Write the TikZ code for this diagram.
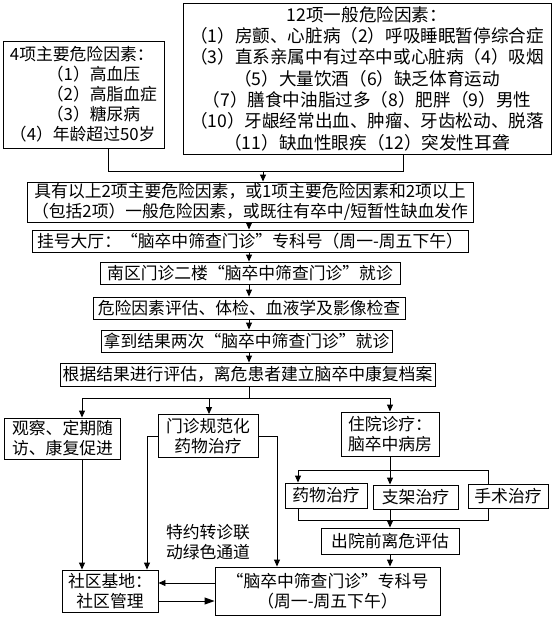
\documentclass[tikz,border=0pt]{standalone}
\usepackage{fontspec}
\setmainfont{Noto Sans CJK SC}
\usetikzlibrary{arrows.meta, positioning, calc}

\begin{document}
\begin{tikzpicture}[
    x=1pt, y=-1pt,
    line width=0.9pt,
    box/.style={draw, fill=white, align=center, inner sep=1pt, font=\fontsize{16.8}{20}\selectfont},
    note/.style={align=center, inner sep=0pt, font=\fontsize{16.8}{20}\selectfont},
    arr/.style={-{Triangle[length=7pt, width=6pt]}},
    bigarr/.style={-{Triangle[length=10pt, width=7pt]}},
]
    \useasboundingbox (0,0) rectangle (554,618);

    % Risk factors
    \node[box, align=left, minimum width=161pt, minimum height=107pt] (major) at (83.5,94.5)
        {4项主要危险因素：\\
         \hspace*{2.2em}（1）高血压\\
         \hspace*{2.2em}（2）高脂血症\\
         \hspace*{2.2em}（3）糖尿病\\
         （4）年龄超过50岁};
    \node[box, minimum width=368pt, minimum height=151pt, font=\fontsize{17.6}{21.3}\selectfont] (general) at (367,78.5)
        {12项一般危险因素：\\
         （1）房颤、心脏病（2）呼吸睡眠暂停综合症\\
         （3）直系亲属中有过卒中或心脏病（4）吸烟\\
         （5）大量饮酒（6）缺乏体育运动\\
         （7）膳食中油脂过多（8）肥胖（9）男性\\
         （10）牙龈经常出血、肿瘤、牙齿松动、脱落\\
         （11）缺血性眼疾（12）突发性耳聋};

    % Screening steps
    \node[box, minimum width=446pt, minimum height=40pt] (criteria) at (250,202)
        {具有以上2项主要危险因素，或1项主要危险因素和2项以上\\
         （包括2项）一般危险因素，或既往有卒中/短暂性缺血发作};
    \node[box, minimum width=436pt, minimum height=22pt] (register) at (250,241)
        {挂号大厅：“脑卒中筛查门诊”专科号（周一-周五下午）};
    \node[box, minimum width=300pt, minimum height=22pt] (nanqu) at (250,273)
        {南区门诊二楼“脑卒中筛查门诊”就诊};
    \node[box, minimum width=312pt, minimum height=22pt] (exam) at (249,308)
        {危险因素评估、体检、血液学及影像检查};
    \node[box, minimum width=291pt, minimum height=22pt] (result) at (246.5,341)
        {拿到结果两次“脑卒中筛查门诊”就诊};
    \node[box, minimum width=375pt, minimum height=23pt] (assess) at (247.5,374.5)
        {根据结果进行评估，离危患者建立脑卒中康复档案};

    % Three branches
    \node[box, minimum width=116pt, minimum height=41pt] (observe) at (62.5,438.5)
        {观察、定期随\\访、康复促进};
    \node[box, minimum width=100pt, minimum height=43pt] (outpat) at (208,436)
        {门诊规范化\\药物治疗};
    \node[box, minimum width=98pt, minimum height=44pt] (inpat) at (390,434)
        {住院诊疗：\\脑卒中病房};

    % Inpatient treatment
    \node[box, minimum width=82pt, minimum height=25pt] (medic) at (326,495.5) {药物治疗};
    \node[box, minimum width=85pt, minimum height=24pt] (stent) at (415.5,497) {支架治疗};
    \node[box, minimum width=80pt, minimum height=24pt] (surgery) at (508,496) {手术治疗};
    \node[box, minimum width=138pt, minimum height=26pt] (discharge) at (390,541) {出院前离危评估};

    % Follow-up
    \node[box, minimum width=225pt, minimum height=48pt] (clinic) at (327.5,591)
        {“脑卒中筛查门诊”专科号\\（周一-周五下午）};
    \node[box, minimum width=96pt, minimum height=42pt] (community) at (110,591)
        {社区基地：\\社区管理};
    \node[note] (green) at (208,542) {特约转诊联\\动绿色通道};

    % Connectors
    \coordinate (jA) at (108,171);
    \coordinate (jB) at (403,171);
    \coordinate (jC) at (263,171);
    \coordinate (col) at (249,0);
    \draw (jA |- major.south) -- (jA) -- (jB) -- (jB |- general.south);
    \draw[arr] (jC) -- (jC |- criteria.north);
    \foreach \a/\b in {criteria/register, register/nanqu, nanqu/exam, exam/result, result/assess}
        \draw[arr] (col |- \a.south) -- (col |- \b.north);

    \coordinate (bL) at (82,398);
    \coordinate (bM) at (209,398);
    \coordinate (bR) at (390,398);
    \draw (col |- assess.south) -- (col |- bL);
    \draw (bL) -- (bR);
    \draw[arr] (bL) -- (bL |- observe.north);
    \draw[arr] (bM) -- (bM |- outpat.north);
    \draw[arr] (bR) -- (bR |- inpat.north);
    \draw[arr] (bL |- observe.south) -- (bL |- community.north);

    \coordinate (gL) at (147,436);
    \coordinate (gR) at (277,436);
    \draw[arr] (gL -| outpat.west) -- (gL) -- (gL |- community.north);
    \draw[arr] (gR -| outpat.east) -- (gR) -- (gR |- clinic.north);

    \coordinate (tL) at (298,470);
    \coordinate (tR) at (488,470);
    \coordinate (uL) at (298,520);
    \coordinate (uR) at (488,520);
    \draw[arr] (bR |- inpat.south) -- (bR |- stent.north);
    \draw (tL) -- (tR) -- (tR |- surgery.north);
    \draw[arr] (tL) -- (tL |- medic.north);
    \draw (tL |- medic.south) -- (uL) -- (uR) -- (uR |- surgery.south);
    \draw[arr] (bR |- stent.south) -- (bR |- discharge.north);
    \draw[arr] (bR |- discharge.south) -- (bR |- clinic.north);

    \coordinate (hU) at (0,583);
    \coordinate (hD) at (0,601);
    \draw[arr] (clinic.west |- hU) -- (community.east |- hU);
    \draw[bigarr] (community.east |- hD) -- (clinic.west |- hD);
\end{tikzpicture}
\end{document}
